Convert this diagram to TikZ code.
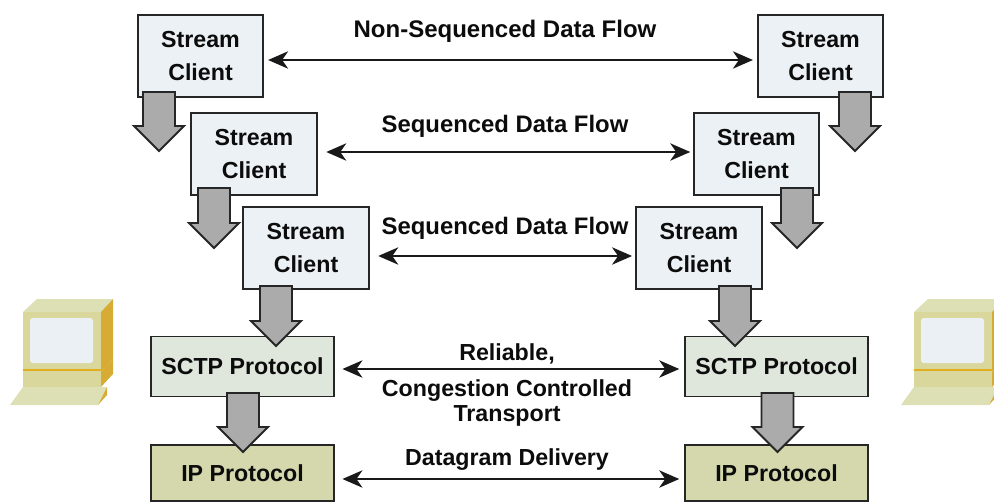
\documentclass[tikz,border=0pt]{standalone}
\usepackage{fontspec}
\setmainfont{Liberation Sans}
\usetikzlibrary{arrows.meta}
\definecolor{inktext}{HTML}{0C0C0C}
\definecolor{streamfill}{HTML}{EBF1F4}
\definecolor{sctpfill}{HTML}{DFE6DC}
\definecolor{ipfill}{HTML}{D4D8AC}
\definecolor{blockgray}{HTML}{ABABAB}
\definecolor{pcfront}{HTML}{DAD79C}
\definecolor{pctop}{HTML}{DDE0B4}
\definecolor{pcside}{HTML}{D6AC35}
\definecolor{pcstripe}{HTML}{E3AE1E}
\definecolor{pcscreen}{HTML}{EAF0F3}
\tikzset{
  x=0.75pt,y=-0.75pt,
  box/.style={draw=black!85,line width=1.4pt,inner sep=0pt,font=\fontsize{17.4}{24.75}\selectfont\bfseries,text=inktext,align=center},
  streambox/.style={box,fill=streamfill,minimum width=94pt,minimum height=62pt},
  sctpbox/.style={box,fill=sctpfill,minimum width=137.5pt,minimum height=45pt},
  ipbox/.style={box,fill=ipfill,minimum width=137.5pt,minimum height=42.5pt},
  lab/.style={font=\fontsize{#1}{24.75}\selectfont\bfseries,text=inktext,inner sep=0pt,align=center},
  flow/.style={line width=1.3pt,draw=black!90,{Stealth[length=15pt,width=13pt,inset=4.5pt]}-{Stealth[length=15pt,width=13pt,inset=4.5pt]}},
  blockarrow/.style={draw=black!85,line width=1.4pt,fill=blockgray,line join=miter}
}
\newcommand{\blockarrow}[3]{%
  \draw[blockarrow] (#1-16,#2) -- (#1+16,#2) -- (#1+16,#3-25) -- (#1+25,#3-25) -- (#1,#3) -- (#1-25,#3-25) -- (#1-16,#3-25) -- cycle;}
\newcommand{\computer}{%
  \fill[pctop] (23,312) -- (37,299) -- (113,299) -- (101,312) -- cycle;
  \fill[pcfront] (23,312) rectangle (101,369);
  \fill[pcside] (101,312) -- (113,299) -- (113,359) -- (101,372) -- cycle;
  \fill[pcscreen,rounded corners=2pt] (30,318) rectangle (93,363);
  \fill[pcstripe] (23,369) rectangle (101,371);
  \fill[pcfront] (23,371) rectangle (101,387);
  \fill[pcside] (101,372) -- (113,359) -- (113,374) -- (101,387) -- cycle;
  \fill[pctop] (10,405) -- (23,387) -- (107,387) -- (98,405) -- cycle;
  \fill[pcside] (107,387) -- (107,395) -- (98,405) -- cycle;}
\begin{document}
\begin{tikzpicture}
\useasboundingbox (0,0) rectangle (994,502);
\fill[white] (0,0) rectangle (994,502);
\begin{scope}
  \clip (0,0) rectangle (994,502);
  \computer
  \begin{scope}[xshift=668.25pt]\computer\end{scope}
\end{scope}

\node[streambox] (L1) at (200.5,56) {Stream\\Client};
\node[streambox] (L2) at (254,154) {Stream\\Client};
\node[streambox] (L3) at (306,248) {Stream\\Client};
\node[streambox] (R1) at (820.5,56) {Stream\\Client};
\node[streambox] (R2) at (756.5,154) {Stream\\Client};
\node[streambox] (R3) at (699,248) {Stream\\Client};
\node[sctpbox] (SL) at (242.5,366.5) {SCTP Protocol};
\node[sctpbox] (SR) at (776.5,366.5) {SCTP Protocol};
\node[ipbox] (IL) at (242.5,473) {IP Protocol};
\node[ipbox] (IR) at (776.5,473) {IP Protocol};

\blockarrow{159}{92}{151}
\blockarrow{214}{188}{248}
\blockarrow{276}{286}{346}
\blockarrow{243}{393}{452}
\blockarrow{855}{92}{151}
\blockarrow{797}{188}{248}
\blockarrow{735}{286}{346}
\blockarrow{777.5}{393}{452}

\draw[flow,shorten <=3pt,shorten >=3pt] (L1.east |- 0,60) -- (R1.west |- 0,60);
\draw[flow,shorten <=6.5pt,shorten >=2pt] (L2.east |- 0,152) -- (R2.west |- 0,152);
\draw[flow,shorten <=6.5pt,shorten >=2.5pt] (L3.east |- 0,256) -- (R3.west |- 0,256);
\draw[flow,shorten <=5.5pt,shorten >=3.5pt] (SL.east |- 0,369) -- (SR.west |- 0,369);
\draw[flow,shorten <=5.5pt,shorten >=3.5pt] (IL.east |- 0,479) -- (IR.west |- 0,479);

\node[lab=18] (t1) at (505,31) {Non-Sequenced Data Flow};
\node[lab=17.9] (t2) at (505,126) {Sequenced Data Flow};
\node[lab=17.9] (t3) at (505,228) {Sequenced Data Flow};
\node[lab=17.4] (t4) at (507,354) {Reliable,};
\node[lab=17.4] (t5) at (507,391) {Congestion Controlled};
\node[lab=17.4] (t6) at (507,416) {Transport};
\node[lab=17.4] (t7) at (507,460) {Datagram Delivery};
\end{tikzpicture}
\end{document}
